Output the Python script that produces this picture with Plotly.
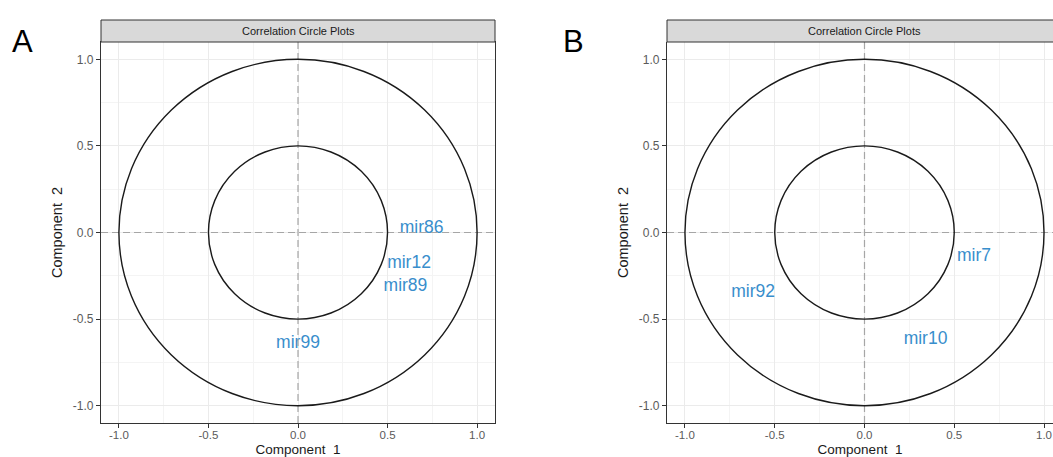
import plotly.graph_objects as go

# ---- data ----
panel_letters = ["A", "B"]
strip_title = "Correlation Circle Plots"
labels_A = ["mir86", "mir12", "mir89", "mir99"]
x_A = [0.69, 0.62, 0.60, 0.00]
y_A = [0.02, -0.18, -0.31, -0.64]
labels_B = ["mir7", "mir92", "mir10"]
x_B = [0.61, -0.62, 0.34]
y_B = [-0.14, -0.35, -0.62]
circle_radii = [1.0, 0.5]
tick_vals = [-1.0, -0.5, 0.0, 0.5, 1.0]
tick_text = ["-1.0", "-0.5", "0.0", "0.5", "1.0"]
x_title = "Component  1"
y_title = "Component  2"

W, H = 1053, 457
FONT = "Liberation Sans, Arial, sans-serif"
LABEL_COLOR = "#388ECC"

xdomA = [101 / W, 495 / W]
xdomB = [667 / W, 1.0]
ydom = [(H - 423) / H, (H - 42) / H]
strip_y = [(H - 42) / H, (H - 20) / H]

fig = go.Figure()

fig.add_trace(go.Scatter(x=x_A, y=y_A, text=labels_A, mode="text",
                         textfont=dict(color=LABEL_COLOR, size=17.5, family=FONT),
                         xaxis="x", yaxis="y", showlegend=False, hoverinfo="skip"))
fig.add_trace(go.Scatter(x=x_B, y=y_B, text=labels_B, mode="text",
                         textfont=dict(color=LABEL_COLOR, size=17.5, family=FONT),
                         xaxis="x2", yaxis="y2", showlegend=False, hoverinfo="skip"))

def xaxis(domain, rng, anchor, mirror):
    return dict(domain=domain, range=rng, anchor=anchor,
                tickvals=tick_vals, ticktext=tick_text,
                showgrid=True, gridcolor="#ebebeb", gridwidth=1.2,
                minor=dict(dtick=0.25, tick0=0.25, showgrid=True,
                           gridcolor="#f4f4f4", gridwidth=0.8, ticks=""),
                zeroline=False, showline=True, linecolor="#333333", linewidth=1.1,
                mirror=mirror, ticks="outside", ticklen=4, tickcolor="#333333",
                tickwidth=1, ticklabelstandoff=-3,
                tickfont=dict(size=11.5, color="#5a5a5a", family=FONT),
                title=dict(text=x_title, font=dict(size=13.5, color="#1a1a1a", family=FONT),
                           standoff=8),
                fixedrange=True)

def yaxis(domain, anchor, mirror):
    return dict(domain=domain, range=[-1.1, 1.1], anchor=anchor,
                tickvals=tick_vals, ticktext=tick_text,
                showgrid=True, gridcolor="#ebebeb", gridwidth=1.2,
                minor=dict(dtick=0.25, tick0=0.25, showgrid=True,
                           gridcolor="#f4f4f4", gridwidth=0.8, ticks=""),
                zeroline=False, showline=True, linecolor="#333333", linewidth=1.1,
                mirror=mirror, ticks="outside", ticklen=4, tickcolor="#333333",
                tickwidth=1,
                tickfont=dict(size=12, color="#5a5a5a", family=FONT),
                title=dict(text=y_title, font=dict(size=14.5, color="#1a1a1a", family=FONT),
                           standoff=6),
                fixedrange=True)

fig.update_layout(
    width=W, height=H,
    margin=dict(l=0, r=0, t=0, b=0),
    paper_bgcolor="white", plot_bgcolor="white",
    xaxis=xaxis(xdomA, [-1.1, 1.1], "y", True),
    yaxis=yaxis(ydom, "x", True),
    xaxis2=xaxis(xdomB, [-1.1, 1.05], "y2", False),
    yaxis2=yaxis(ydom, "x2", False),
    font=dict(family=FONT),
)

shapes = []
for xr, yr in [("x", "y"), ("x2", "y2")]:
    shapes.append(dict(type="line", xref=xr, yref=yr + " domain", x0=0, x1=0, y0=0, y1=1,
                       line=dict(color="#a6a6a6", width=1.2, dash="7px,4px"), layer="above"))
    shapes.append(dict(type="line", xref=xr + " domain", yref=yr, x0=0, x1=1, y0=0, y1=0,
                       line=dict(color="#a6a6a6", width=1.2, dash="7px,4px"), layer="above"))
    for r in circle_radii:
        shapes.append(dict(type="circle", xref=xr, yref=yr, x0=-r, x1=r, y0=-r, y1=r,
                           line=dict(color="#1a1a1a", width=1.4), layer="above"))

for dom, right_line in [(xdomA, True), (xdomB, False)]:
    shapes.append(dict(type="rect", xref="paper", yref="paper",
                       x0=dom[0], x1=dom[1] + (0 if right_line else 0.01),
                       y0=strip_y[0], y1=strip_y[1],
                       fillcolor="#d9d9d9", line=dict(color="#333333", width=1), layer="above"))
fig.update_layout(shapes=shapes)

annotations = []
strip_centers = [(xdomA[0] + xdomA[1]) / 2, (xdomB[0] + (864 + 198) / W) / 2]
for cx in strip_centers:
    annotations.append(dict(text=strip_title, xref="paper", yref="paper",
                            x=cx, y=(strip_y[0] + strip_y[1]) / 2,
                            showarrow=False, font=dict(size=11, color="#1a1a1a", family=FONT),
                            xanchor="center", yanchor="middle"))
letter_x = [22 / W, 573 / W]
for letter, lx in zip(panel_letters, letter_x):
    annotations.append(dict(text=letter, xref="paper", yref="paper", x=lx, y=(H - 42) / H,
                            showarrow=False, font=dict(size=31, color="black", family=FONT),
                            xanchor="center", yanchor="middle"))
fig.update_layout(annotations=annotations)

fig.write_html("out.html")
